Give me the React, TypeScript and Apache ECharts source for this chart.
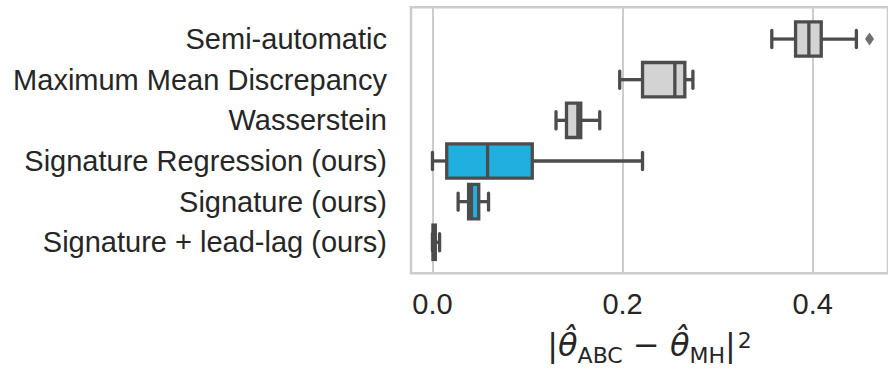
import React, { useEffect, useRef } from "react";
import * as echarts from "echarts";

const categories = [
  "Semi-automatic",
  "Maximum Mean Discrepancy",
  "Wasserstein",
  "Signature Regression (ours)",
  "Signature (ours)",
  "Signature + lead-lag (ours)",
];
const whiskerLow = [0.357, 0.197, 0.13, 0.0, 0.027, 0.0];
const q1 = [0.382, 0.221, 0.141, 0.015, 0.038, 0.0005];
const median = [0.396, 0.255, 0.153, 0.058, 0.041, 0.0015];
const q3 = [0.409, 0.2655, 0.156, 0.105, 0.0487, 0.003];
const whiskerHigh = [0.446, 0.274, 0.176, 0.221, 0.059, 0.0075];
const boxColors = ["#d3d3d3", "#d3d3d3", "#d3d3d3", "#20afdf", "#20afdf", "#20afdf"];
const outlierCategories = ["Semi-automatic"];
const outlierValues = [0.4598];
const xTicks = [0, 0.2, 0.4];

const XMIN = -0.02258;
const PX_PER_UNIT = 956.5;
const GRID_W = 480;
const XMAX = XMIN + GRID_W / PX_PER_UNIT;

const EDGE = "#4c4c4c";
const TEXT = "#262626";

export default function App() {
  const ref = useRef<HTMLDivElement>(null);
  useEffect(() => {
    if (!ref.current) return;
    const chart = echarts.init(ref.current, undefined, { renderer: "svg" });
    const boxData = categories.map((_, i) => [i, whiskerLow[i], q1[i], median[i], q3[i], whiskerHigh[i]]);
    const mathFont = "DejaVu Sans";
    const option: any = {
      animation: false,
      backgroundColor: "#ffffff",
      grid: [
        {
          left: 411,
          top: 7.3,
          width: GRID_W,
          height: 266,
          show: true,
          borderColor: "#cccccc",
          borderWidth: 2.5,
          backgroundColor: "#ffffff",
        },
        { left: 411, top: 18.7, width: GRID_W, height: 243.9 },
      ],
      xAxis: [
        {
          type: "value",
          gridIndex: 0,
          min: XMIN,
          max: XMAX,
          axisLine: { show: false },
          axisTick: { show: false, customValues: xTicks },
          axisLabel: {
            customValues: xTicks,
            formatter: (v: number) => v.toFixed(1),
            fontSize: 29,
            fontFamily: "Liberation Sans",
            color: TEXT,
            margin: 16,
          },
          splitLine: { show: true, lineStyle: { color: "#cccccc", width: 2 } },
          name: "{m||}{t|θ\u0302}{s|ABC}{m| \u2212 }{t|θ\u0302}{s|MH}{m||}{p|2}",
          nameLocation: "middle",
          nameGap: 61,
          nameTextStyle: {
            fontFamily: mathFont,
            fontSize: 32,
            color: TEXT,
            rich: {
              m: { fontFamily: mathFont, fontSize: 32, lineHeight: 32, color: TEXT, verticalAlign: "bottom", padding: [0, 0, 5, 0] },
              t: { fontFamily: mathFont, fontStyle: "italic", fontSize: 32, lineHeight: 32, color: TEXT, verticalAlign: "bottom", padding: [0, 0, 5, 0] },
              s: { fontFamily: mathFont, fontSize: 22, lineHeight: 22, color: TEXT, verticalAlign: "bottom", padding: [0, 0, 0, 0] },
              p: { fontFamily: mathFont, fontSize: 22, lineHeight: 22, color: TEXT, verticalAlign: "bottom", padding: [0, 0, 15, 2] },
            },
          },
        },
        { type: "value", gridIndex: 1, min: XMIN, max: XMAX, show: false },
      ],
      yAxis: [
        { type: "value", gridIndex: 0, min: 0, max: 1, show: false },
        {
          type: "category",
          gridIndex: 1,
          data: categories,
          inverse: true,
          axisLine: { show: false },
          axisTick: { show: false },
          splitLine: { show: false },
          axisLabel: { fontSize: 29, fontFamily: "Liberation Sans", color: TEXT, margin: 24 },
        },
      ],
      series: [
        {
          type: "custom",
          xAxisIndex: 1,
          yAxisIndex: 1,
          data: boxData,
          encode: { x: [1, 2, 3, 4, 5], y: 0 },
          renderItem: (params: any, api: any) => {
            const ci = api.value(0);
            const lo = api.coord([api.value(1), ci]);
            const b1 = api.coord([api.value(2), ci]);
            const md = api.coord([api.value(3), ci]);
            const b3 = api.coord([api.value(4), ci]);
            const hi = api.coord([api.value(5), ci]);
            const band = api.size([0, 1])[1];
            const bw = band * 0.845;
            const cap = bw / 2;
            const yc = lo[1];
            const lw = 3.3;
            const ls = { stroke: EDGE, lineWidth: lw };
            const lsr = { stroke: EDGE, lineWidth: lw, lineCap: "round" };
            return {
              type: "group",
              children: [
                { type: "line", shape: { x1: lo[0], y1: yc, x2: b1[0], y2: yc }, style: ls },
                { type: "line", shape: { x1: b3[0], y1: yc, x2: hi[0], y2: yc }, style: ls },
                { type: "line", shape: { x1: lo[0], y1: yc - cap / 2, x2: lo[0], y2: yc + cap / 2 }, style: lsr },
                { type: "line", shape: { x1: hi[0], y1: yc - cap / 2, x2: hi[0], y2: yc + cap / 2 }, style: lsr },
                {
                  type: "rect",
                  shape: { x: b1[0], y: yc - bw / 2, width: b3[0] - b1[0], height: bw },
                  style: { fill: boxColors[params.dataIndex], stroke: EDGE, lineWidth: lw },
                },
                { type: "line", shape: { x1: md[0], y1: yc - bw / 2, x2: md[0], y2: yc + bw / 2 }, style: ls },
              ],
            };
          },
        },
        {
          type: "scatter",
          xAxisIndex: 1,
          yAxisIndex: 1,
          symbol: "diamond",
          symbolSize: [9, 13],
          itemStyle: { color: EDGE },
          data: outlierValues.map((v, i) => [v, outlierCategories[i]]),
        },
      ],
    };
    chart.setOption(option);
    return () => chart.dispose();
  }, []);
  return (
    <div
      ref={ref}
      style={{ position: "fixed", left: 0, top: 0, width: 888, height: 374, background: "#fff" }}
    />
  );
}
